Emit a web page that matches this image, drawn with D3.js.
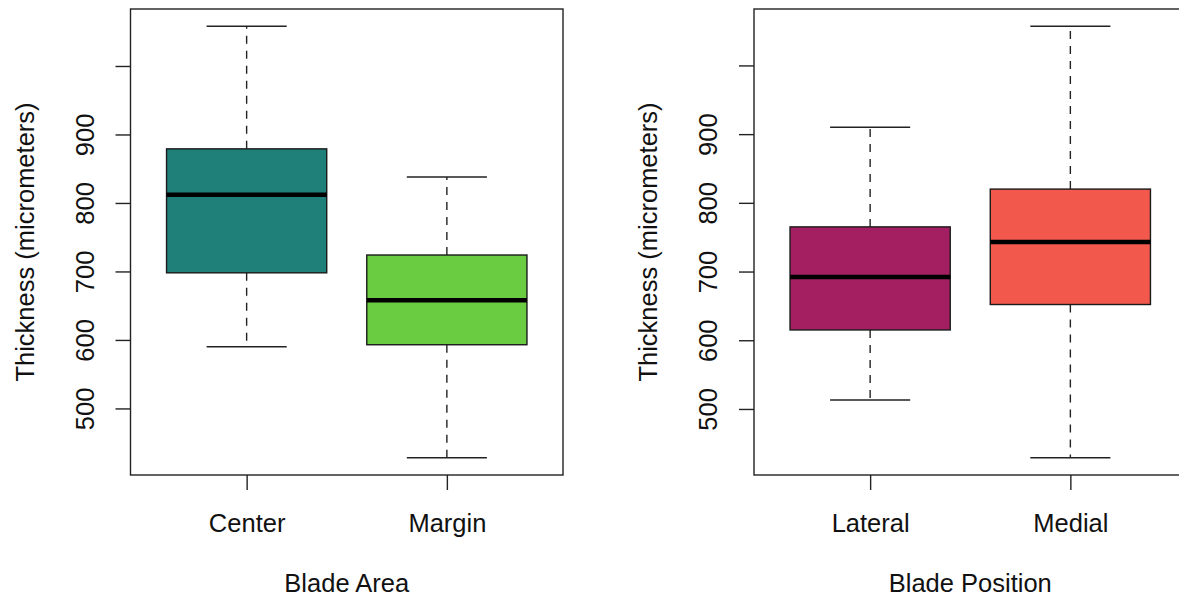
<!DOCTYPE html>
<html>
<head>
<meta charset="utf-8">
<script src="https://cdn.jsdelivr.net/npm/d3@7"></script>
<style>
  body { margin: 0; background: #fff; }
  text { font-family: "Liberation Sans", Arial, sans-serif; fill: #111; }
</style>
</head>
<body>
<div id="chart"></div>
<script>
const FRAME_WIDTH = 1179;
const FRAME_HEIGHT = 598;

// data: five-number summaries
const areaGroups = ["Center", "Margin"];
const areaMin = [590, 428];
const areaQ1 = [698, 593];
const areaMedian = [812, 658];
const areaQ3 = [879, 724];
const areaMax = [1058, 838];
const areaColors = ["#1f7f79", "#6acc41"];

const positionGroups = ["Lateral", "Medial"];
const positionMin = [513, 429];
const positionQ1 = [615, 652];
const positionMedian = [692, 743];
const positionQ3 = [765, 820];
const positionMax = [910, 1057];
const positionColors = ["#a31f62", "#f2584b"];

const yTicks = [500, 600, 700, 800, 900, 1000];
const yTickLabels = ["500", "600", "700", "800", "900", ""];

let svg = d3.select("#chart")
  .append("svg")
  .attr("width", FRAME_WIDTH)
  .attr("height", FRAME_HEIGHT);

function drawPanel(left, groups, mins, q1s, medians, q3s, maxs, colors, xTitle) {
  let right = left + 432.5;
  let top = 9;
  let bottom = 475;

  let data = groups.map(function(g, i) {
    return { name: g, i: i + 1, min: mins[i], q1: q1s[i], med: medians[i], q3: q3s[i], max: maxs[i], color: colors[i] };
  });

  // R-style 4% padding on both axes
  let lo = d3.min(mins), hi = d3.max(maxs);
  let pad = (hi - lo) * 0.04;
  let y = d3.scaleLinear().domain([lo - pad, hi + pad]).range([bottom, top]);
  let x = d3.scaleLinear().domain([0.5 - 0.08, groups.length + 0.5 + 0.08]).range([left, right]);

  let boxHalf = x(1.4) - x(1);
  let capHalf = boxHalf / 2;

  let g = svg.append("g");

  // whiskers
  g.selectAll(".whiskerUp").data(data).enter().append("line")
    .attr("x1", d => x(d.i)).attr("x2", d => x(d.i))
    .attr("y1", d => y(d.q3)).attr("y2", d => y(d.max))
    .attr("stroke", "#222").attr("stroke-width", 1.4).attr("stroke-dasharray", "8,7");
  g.selectAll(".whiskerDown").data(data).enter().append("line")
    .attr("x1", d => x(d.i)).attr("x2", d => x(d.i))
    .attr("y1", d => y(d.q1)).attr("y2", d => y(d.min))
    .attr("stroke", "#222").attr("stroke-width", 1.4).attr("stroke-dasharray", "8,7");

  // staples
  ["max", "min"].forEach(function(k) {
    g.selectAll(".cap-" + k).data(data).enter().append("line")
      .attr("x1", d => x(d.i) - capHalf).attr("x2", d => x(d.i) + capHalf)
      .attr("y1", d => y(d[k])).attr("y2", d => y(d[k]))
      .attr("stroke", "#222").attr("stroke-width", 1.4);
  });

  // boxes
  g.selectAll(".box").data(data).enter().append("rect")
    .attr("x", d => x(d.i) - boxHalf)
    .attr("width", boxHalf * 2)
    .attr("y", d => y(d.q3))
    .attr("height", d => y(d.q1) - y(d.q3))
    .attr("fill", d => d.color)
    .attr("stroke", "#1a1a1a").attr("stroke-width", 1.4);

  // medians
  g.selectAll(".median").data(data).enter().append("line")
    .attr("x1", d => x(d.i) - boxHalf).attr("x2", d => x(d.i) + boxHalf)
    .attr("y1", d => y(d.med)).attr("y2", d => y(d.med))
    .attr("stroke", "#000").attr("stroke-width", 4.5);

  // frame
  g.append("rect")
    .attr("x", left).attr("y", top)
    .attr("width", right - left).attr("height", bottom - top)
    .attr("fill", "none").attr("stroke", "#222").attr("stroke-width", 1.4);

  // y axis
  let yAxis = g.append("g")
    .attr("transform", "translate(" + left + ",0)")
    .call(d3.axisLeft(y).tickValues(yTicks).tickSize(15)
      .tickFormat((d, i) => yTickLabels[i]));
  yAxis.select(".domain").remove();
  yAxis.selectAll(".tick line").attr("stroke", "#222").attr("stroke-width", 1.4);
  yAxis.selectAll(".tick text")
    .attr("transform", "rotate(-90)")
    .attr("x", 0).attr("y", -37).attr("dy", 0)
    .attr("text-anchor", "middle")
    .style("font-size", "25.5px").style("fill", "#111")
    .style("font-family", "'Liberation Sans', Arial, sans-serif");

  // x axis
  let xAxis = g.append("g")
    .attr("transform", "translate(0," + bottom + ")")
    .call(d3.axisBottom(x).tickValues(data.map(d => d.i)).tickSize(15)
      .tickFormat(d => groups[d - 1]));
  xAxis.select(".domain").remove();
  xAxis.selectAll(".tick line").attr("stroke", "#222").attr("stroke-width", 1.4);
  xAxis.selectAll(".tick text")
    .attr("y", 57).attr("dy", 0)
    .style("font-size", "25.5px").style("fill", "#111")
    .style("font-family", "'Liberation Sans', Arial, sans-serif");

  // titles
  g.append("text")
    .attr("x", (left + right) / 2)
    .attr("y", 592)
    .attr("text-anchor", "middle")
    .style("font-size", "25.5px")
    .text(xTitle);

  g.append("text")
    .attr("transform", "translate(" + (left - 97) + "," + ((top + bottom) / 2) + ") rotate(-90)")
    .attr("text-anchor", "middle")
    .style("font-size", "25.5px")
    .text("Thickness (micrometers)");
}

drawPanel(130.5, areaGroups, areaMin, areaQ1, areaMedian, areaQ3, areaMax, areaColors, "Blade Area");
drawPanel(754, positionGroups, positionMin, positionQ1, positionMedian, positionQ3, positionMax, positionColors, "Blade Position");
</script>
</body>
</html>
